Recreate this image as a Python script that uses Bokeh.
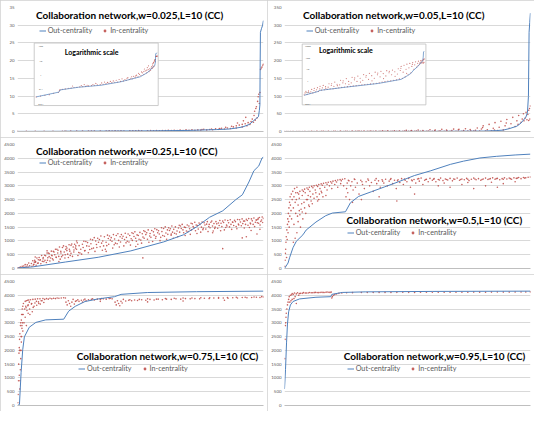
import numpy as np
from bokeh.plotting import figure
from bokeh.layouts import gridplot
from bokeh.models import Range1d, FixedTicker, Legend, LegendItem
from bokeh.embed import file_html
from bokeh.resources import INLINE
from bokeh.core.properties import value

# ------------------------------------------------------------------ data
titles = [
    "Collaboration network,w=0.025,L=10 (CC)",
    "Collaboration network,w=0.05,L=10 (CC)",
    "Collaboration network,w=0.25,L=10 (CC)",
    "Collaboration network,w=0.5,L=10 (CC)",
    "Collaboration network,w=0.75,L=10 (CC)",
    "Collaboration network,w=0.95,L=10 (CC)",
]
y_max = [35, 350, 4500, 4500, 4500, 4500]
y_step = [5, 50, 500, 500, 500, 500]
legend_labels = ["Out-centrality", "In-centrality"]
inset_title = "Logarithmic scale"
inset1_ticks = [0.01, 0.1, 1, 10, 100]
inset1_tick_labels = ["0.01", "0.1", "1", "10", "100"]
inset2_ticks = [0.01, 0.1, 1, 10, 100, 1000]
inset2_tick_labels = ["0.01", "0.1", "1", "10", "100", "1000"]
n_nodes = 4160

# --- w = 0.025
out1_x = [0, 780, 835, 1450, 2230, 2900, 3370, 3580, 3710, 3810, 3920, 3990, 4040, 4075, 4090, 4099, 4103, 4108, 4125, 4145, 4158]
out1_y = [0.028, 0.06, 0.086, 0.13, 0.18, 0.31, 0.54, 0.7, 1.0, 1.3, 2.0, 3.0, 3.7, 4.2, 6.0, 7.5, 18, 28, 29, 30, 31.3]
in1_x = [0, 150, 300, 450, 600, 760, 800, 820, 900, 1000, 1100, 1200, 1300, 1400, 1500, 1550, 1600, 1700, 1800, 1900,
         1950, 2000, 2100, 2200, 2250, 2300, 2400, 2500, 2550, 2600, 2700, 2750, 2800, 2900, 2950, 3000, 3050, 3100, 3150, 3200,
         3250, 3300, 3350, 3400, 3450, 3500, 3550, 3600, 3650, 3700, 3700, 3750, 3800, 3800, 3850, 3880, 3900, 3930, 3950, 3970,
         3990, 4000, 4010, 4020, 4030, 4040, 4050, 4060, 4070, 4080, 4090, 4100, 4110, 4120, 4135, 4150, 4158,
         1250, 1650, 2050, 2350, 2650, 2850, 3120, 3280, 3420, 3520, 3620, 3720, 3820, 3860, 1750, 2450]
in1_y = [0.028, 0.032, 0.036, 0.04, 0.05, 0.058, 0.08, 0.09, 0.095, 0.1, 0.11, 0.115, 0.125, 0.13, 0.14, 0.17, 0.145, 0.15, 0.16, 0.17,
         0.2, 0.18, 0.19, 0.2, 0.26, 0.21, 0.23, 0.25, 0.33, 0.27, 0.29, 0.4, 0.3, 0.33, 0.5, 0.36, 0.45, 0.4, 0.6, 0.45,
         0.55, 0.5, 0.75, 0.6, 0.9, 0.7, 1.0, 0.85, 1.3, 1.0, 1.6, 1.8, 1.3, 2.0, 2.2, 1.6, 2.5, 2.0, 2.8, 3.5,
         2.6, 4.5, 5.7, 3.2, 6.5, 7.0, 3.8, 8.5, 9.8, 10.5, 7.9, 11, 17.5, 17.9, 18.2, 18.7, 19.0,
         0.16, 0.2, 0.24, 0.3, 0.36, 0.45, 0.55, 0.7, 0.8, 1.2, 1.5, 2.4, 3.0, 4.0, 0.18, 0.28]

# --- w = 0.05
out2_x = [0, 500, 520, 1430, 2570, 3360, 3580, 3700, 3800, 3930, 4000, 4080, 4108, 4125, 4136, 4147, 4158]
out2_y = [0.05, 0.11, 0.13, 0.25, 0.53, 1.2, 2.5, 4.0, 8, 15, 24, 40, 53, 99, 280, 307, 334]
in2_x = [0, 30, 60, 100, 140, 200, 230, 260, 300, 340, 400, 430, 460, 500, 540, 600, 630, 660, 700, 740,
         800, 830, 860, 900, 940, 1000, 1030, 1060, 1100, 1140, 1200, 1230, 1260, 1300, 1340, 1400, 1430, 1460, 1500, 1540,
         1600, 1630, 1660, 1700, 1740, 1800, 1830, 1860, 1900, 1940, 2000, 2030, 2060, 2100, 2140, 2200, 2230, 2260, 2300, 2340,
         2400, 2430, 2460, 2500, 2540, 2600, 2630, 2660, 2700, 2740, 2800, 2830, 2860, 2900, 2940, 3000, 3030, 3060, 3100, 3140,
         3200, 3230, 3260, 3300, 3330, 3360, 3400, 3430, 3460, 3500, 3530, 3560, 3600, 3630, 3660, 3700, 3730, 3760,
         3800, 3830, 3860, 3900, 3930, 3960, 4000, 4020, 4040, 4050, 4070, 4085, 4100, 4115, 4130, 4130, 4145, 4150, 4158,
         150, 350, 550, 750, 950, 1150, 1350, 1550, 1750, 1950, 2150, 2350, 2550, 2750, 2950, 3150, 3350, 3550, 3750, 3950]
in2_y = [0.055, 0.08, 0.11, 0.06, 0.09, 0.075, 0.1, 0.16, 0.08, 0.13, 0.1, 0.15, 0.23, 0.11, 0.18, 0.14, 0.22, 0.36, 0.15, 0.28,
         0.16, 0.25, 0.5, 0.18, 0.35, 0.18, 0.3, 0.7, 0.2, 0.45, 0.22, 0.4, 1.0, 0.24, 0.6, 0.26, 0.5, 1.4, 0.28, 0.8,
         0.3, 0.6, 1.8, 0.32, 1.1, 0.34, 0.8, 2.3, 0.37, 1.5, 0.4, 1.0, 3.1, 0.42, 1.9, 0.45, 1.2, 4.0, 0.48, 2.5,
         0.5, 1.5, 5.0, 0.55, 3.0, 0.6, 2.0, 6.0, 0.7, 3.8, 0.75, 2.4, 6.8, 0.85, 4.5, 0.9, 3.0, 7.6, 1.0, 5.5,
         1.1, 3.5, 10, 1.3, 7, 16, 1.5, 5, 20, 2.0, 9, 25, 3.0, 12, 29, 4.5, 16, 34,
         9, 22, 40, 14, 30, 45, 26, 35, 50, 30, 38, 54, 33, 48, 60, 31, 65, 35, 72,
         0.12, 0.2, 0.3, 0.2, 0.5, 0.34, 0.9, 0.45, 1.6, 0.7, 2.6, 0.9, 4.2, 1.4, 6.0, 2.2, 11, 4.0, 24, 20]

# --- w = 0.25
out3_x = [0, 255, 810, 1364, 1917, 2473, 2805, 3027, 3249, 3471, 3692, 3803, 3913, 3997, 4080, 4136, 4158]
out3_y = [20, 58, 235, 407, 640, 966, 1221, 1511, 1860, 2093, 2500, 2675, 3139, 3547, 3722, 4011, 4040]
in3_x = [0, 15, 30, 50, 65, 80, 105, 118, 130, 145, 165, 178, 190, 205,
         235, 245, 258, 270, 285, 305, 315, 328, 340, 352, 385, 395, 408, 420, 435, 465, 475, 488, 500, 512,
         535, 548, 560, 572, 585, 605, 618, 630, 642, 655, 685, 698, 710, 722, 735, 765, 778, 790, 802, 815,
         835, 848, 860, 872, 885, 905, 918, 930, 942, 955, 985, 998, 1010, 1022, 1035,
         1085, 1098, 1110, 1122, 1135, 1185, 1198, 1210, 1222, 1235, 1285, 1298, 1310, 1322, 1335,
         1385, 1398, 1410, 1422, 1435, 1485, 1498, 1510, 1522, 1535, 1585, 1598, 1610, 1622, 1635,
         1685, 1698, 1710, 1722, 1735, 1785, 1798, 1810, 1822, 1835, 1885, 1898, 1910, 1922, 1935,
         1985, 1998, 2010, 2022, 2035, 2085, 2098, 2110, 2122, 2135, 2185, 2198, 2210, 2222, 2235,
         2285, 2298, 2310, 2322, 2335, 2385, 2398, 2410, 2422, 2435, 2485, 2498, 2510, 2522, 2535,
         2585, 2598, 2610, 2622, 2635, 2685, 2698, 2710, 2722, 2735, 2785, 2798, 2810, 2822, 2835,
         2885, 2898, 2910, 2922, 2935, 2985, 2998, 3010, 3022, 3035, 3085, 3098, 3110, 3122, 3135,
         3185, 3198, 3210, 3222, 3235, 3285, 3298, 3310, 3322, 3335, 3385, 3398, 3410, 3422, 3435,
         3485, 3498, 3510, 3522, 3535, 3585, 3598, 3610, 3622, 3635, 3685, 3698, 3710, 3722, 3735,
         3785, 3798, 3810, 3822, 3835, 3885, 3898, 3910, 3922, 3935, 3985, 3998, 4010, 4022, 4035,
         4065, 4078, 4090, 4102, 4115, 4128, 4138, 4148, 4158,
         2120, 3470, 3800, 3870, 4050, 4100, 3950, 300, 500, 700, 1000, 1500, 2000, 2600, 3300,
         277, 291, 305, 352, 366, 380, 432, 446, 460, 507, 521, 535, 577, 591, 605, 652, 666, 680,
         732, 746, 760, 807, 821, 835, 877, 891, 905, 952, 966, 980, 1042, 1056, 1070, 1142, 1156, 1170,
         1242, 1256, 1270, 1342, 1356, 1370, 1442, 1456, 1470, 1542, 1556, 1570, 1642, 1656, 1670,
         1742, 1756, 1770, 1842, 1856, 1870, 1942, 1956, 1970, 2042, 2056, 2070, 2142, 2156, 2170,
         2242, 2256, 2270, 2342, 2356, 2370, 2442, 2456, 2470, 2542, 2556, 2570, 2642, 2656, 2670,
         2742, 2756, 2770, 2842, 2856, 2870, 2942, 2956, 2970, 3042, 3056, 3070, 3142, 3156, 3170,
         3242, 3256, 3270, 3342, 3356, 3370, 3442, 3456, 3470, 3542, 3556, 3570, 3642, 3656, 3670,
         3742, 3756, 3770, 3842, 3856, 3870, 3942, 3956, 3970, 4042, 4056, 4070]
in3_y = [20, 5, 35, 50, 15, 80, 90, 30, 140, 60, 130, 50, 200, 100,
         180, 80, 280, 130, 230, 250, 120, 380, 190, 320, 320, 170, 470, 260, 400, 300, 460, 220, 560, 390,
         540, 270, 380, 630, 460, 310, 600, 500, 700, 400, 660, 440, 780, 340, 560, 480, 820, 600, 380, 700,
         740, 520, 400, 860, 630, 550, 890, 440, 780, 670, 820, 700, 930, 470, 580,
         520, 880, 760, 990, 640, 940, 570, 810, 690, 1060, 740, 1120, 620, 1000, 870,
         1050, 790, 1180, 920, 660, 700, 950, 830, 1210, 1090, 1120, 990, 740, 1230, 860,
         900, 1260, 1020, 780, 1150, 1170, 820, 1050, 1280, 930, 960, 1200, 850, 1080, 1300,
         1330, 1100, 990, 1220, 880, 1030, 920, 1260, 1140, 1370, 1300, 1060, 1400, 950, 1180,
         980, 1330, 1210, 1440, 1100, 1370, 1250, 1010, 1130, 1480, 1170, 1510, 1290, 1060, 1400,
         1440, 1210, 1540, 1320, 1100, 1250, 1360, 1150, 1470, 1570, 1600, 1400, 1300, 1500, 1200,
         1340, 1540, 1440, 1240, 1640, 1480, 1680, 1370, 1580, 1270, 1600, 1320, 1500, 1690, 1410,
         1430, 1610, 1700, 1340, 1520, 1720, 1540, 1360, 1630, 1450, 1460, 1650, 1560, 1740, 1370,
         1670, 1400, 1760, 1490, 1580, 1510, 1770, 1600, 1420, 1690, 1700, 1520, 1440, 1780, 1610,
         1550, 1800, 1630, 1720, 1470, 1740, 1570, 1810, 1490, 1650, 1600, 1830, 1520, 1680, 1760,
         1780, 1640, 1850, 1580, 1710, 1760, 1870, 1670, 1820,
         384, 720, 1110, 1150, 1250, 1420, 1380, 420, 640, 250, 1000, 620, 800, 1250, 1300,
         150, 300, 230, 200, 400, 300, 350, 250, 480, 300, 560, 430, 480, 350, 620, 420, 700, 560,
         620, 430, 760, 500, 800, 650, 700, 470, 840, 600, 880, 740, 830, 560, 700, 650, 980, 820,
         900, 720, 1040, 760, 1100, 950, 1000, 820, 1150, 880, 1180, 1030, 1070, 920, 1200,
         960, 1230, 1100, 1130, 990, 1250, 1020, 1270, 1160, 1200, 1060, 1310, 1100, 1340, 1230,
         1270, 1130, 1380, 1160, 1410, 1300, 1340, 1200, 1450, 1240, 1480, 1380, 1420, 1280, 1510,
         1320, 1540, 1450, 1490, 1360, 1580, 1400, 1620, 1520, 1560, 1430, 1650, 1460, 1660, 1580,
         1600, 1480, 1680, 1500, 1700, 1620, 1640, 1520, 1720, 1540, 1740, 1660, 1680, 1560, 1750,
         1580, 1770, 1690, 1720, 1600, 1790, 1620, 1800, 1730, 1760, 1660, 1820]

# --- w = 0.5
out4_x = [0, 60, 88, 144, 200, 311, 366, 532, 698, 810, 1031, 1114, 1253, 1475, 1696, 1917, 2195, 2473, 2805, 3027, 3304, 3581, 3900, 4158]
out4_y = [0, 200, 407, 756, 988, 1221, 1395, 1686, 1918, 2012, 2058, 2383, 2616, 2790, 2965, 3139, 3372, 3547, 3779, 3896, 4011, 4070, 4120, 4150]
in4_x = [5, 10, 15, 20, 25, 30, 35, 40, 45, 50, 55, 60, 65, 70, 75, 80, 85, 90, 95, 100,
         110, 115, 120, 130, 140, 150, 160, 170, 180, 190, 200, 210,
         220, 260, 300, 340, 380, 420, 460, 500, 540, 580, 620, 660, 700, 740, 780, 820, 860, 900, 940, 980, 1020,
         240, 320, 400, 480, 560, 640, 720, 800, 880, 960,
         230, 250, 280, 300, 330, 350, 370, 400, 430, 450, 480, 520, 550, 600, 630, 680, 720, 760, 800, 850,
         900, 950, 1000, 260, 210, 180, 230, 150, 300, 420, 580, 700,
         160, 190, 220, 250, 270, 290, 310, 340, 360, 390, 410, 440, 470, 500, 530, 560, 590, 620, 650,
         1040, 1050, 1060, 1070, 1080, 1100, 1120, 1140, 1160, 1180, 1200, 1230, 1260, 1290, 1320, 1350, 1380, 1410, 1440, 1470,
         1500, 1530, 1560, 1590, 1620, 1650, 1680, 1710, 1740, 1770, 1800, 1830, 1860, 1890, 1920, 1950, 1980, 2010, 2040, 2070,
         2100, 2130, 2160, 2190, 2220, 2250, 2280, 2310, 2340, 2370, 2400, 2430, 2460, 1300, 1600, 1900, 2200, 1150,
         1090, 1190, 1310, 1420, 1550, 1660, 1790, 1910, 2030, 2150, 2270, 2390,
         2500, 2530, 2560, 2600, 2640, 2680, 2720, 2760, 2800, 2840, 2880, 2920, 2960, 3000, 3040, 3080, 3120, 3160, 3200, 3240,
         3280, 3320, 3360, 3400, 3440, 3480, 3520, 3560, 3600, 3640, 3680, 3720, 3760, 3800, 3840, 3880, 3920, 3960, 4000, 4040,
         4080, 4120, 4158,
         2600, 2800, 3000, 3200, 3400, 3600, 3700, 3900, 2700, 3100, 3500,
         2520, 2620, 2740, 2860, 2980, 3100, 3220, 3340, 3460, 3580, 3700, 3820, 3940, 4060]
in4_y = [80, 300, 550, 700, 950, 1150, 400, 1400, 1050, 1600, 1800, 1300, 2000, 1700, 2200, 1500, 2400, 1900, 2600, 2300,
         2100, 2700, 1800, 2500, 2800, 2200, 2600, 2900, 2400, 2750, 2500, 2950,
         2750, 2800, 2850, 2880, 2920, 2950, 2980, 3000, 3020, 3050, 3070, 3090, 3110, 3130, 3150, 3170, 3190, 3210, 3225, 3240, 3255,
         2700, 2800, 2870, 2930, 2980, 3020, 3060, 3100, 3140, 3180,
         2300, 2550, 2150, 2650, 2400, 2750, 2500, 2650, 2800, 2450, 2700, 2850, 2600, 2900, 2750, 2950, 2850, 3000, 2900, 3050,
         2950, 3080, 3000, 1950, 1300, 1100, 1700, 950, 2050, 2250, 2500, 2650,
         1600, 2000, 1900, 2100, 1500, 2350, 1800, 2200, 2000, 2500, 2300, 2600, 2350, 2550, 2750, 2450, 2700, 2800, 2600,
         2600, 2900, 3100, 2750, 3200, 2500, 3000, 3150, 2850, 3250, 2950, 3100, 2700, 3200, 3050, 2900, 3150, 3250, 3000, 3120,
         2800, 3200, 3080, 3180, 2950, 3220, 3100, 3240, 3000, 3170, 3260, 3080, 3200, 2900, 3220, 3120, 3260, 3050, 3200, 3150,
         3270, 2950, 3180, 3230, 3100, 3250, 3170, 3280, 3050, 3200, 3240, 3150, 3270, 2500, 2600, 2450, 2700, 2400,
         3180, 3230, 3150, 3200, 3260, 3170, 3230, 3180, 3250, 3210, 3260, 3230,
         3200, 3260, 3150, 3230, 3280, 3190, 3250, 3210, 3270, 3180, 3240, 3280, 3200, 3250, 3220, 3270, 3190, 3240, 3280, 3220,
         3260, 3200, 3250, 3280, 3230, 3260, 3290, 3240, 3270, 3220, 3260, 3290, 3250, 3280, 3240, 3290, 3270, 3300, 3260, 3300,
         3290, 3310, 3320,
         3000, 2950, 3050, 2900, 3000, 2950, 3080, 3150, 3100, 3120, 3130,
         3240, 3210, 3230, 3250, 3230, 3240, 3250, 3230, 3250, 3260, 3240, 3260, 3280, 3280]

# --- w = 0.75
out5_x = [0, 33, 61, 88, 116, 200, 311, 477, 782, 865, 976, 1142, 1364, 1641, 1751, 2195, 3027, 4158]
out5_y = [0, 35, 1203, 2020, 2490, 2841, 3016, 3107, 3132, 3423, 3598, 3774, 3868, 3949, 4033, 4100, 4130, 4150]
in5_x = [5, 10, 15, 20, 25, 30, 35, 40, 45, 50, 55, 60, 65, 70, 75, 80, 85, 90, 95,
         110, 130, 150, 180, 250, 90, 70, 60, 55, 48, 42, 38, 30, 35, 65, 75, 85,
         100, 120, 130, 140, 150, 160, 170, 180, 190, 200, 210, 220, 240, 260, 280, 300, 320, 340, 360, 380,
         400, 430, 460, 490, 520, 550, 580, 610, 640, 670, 700, 740, 780, 810,
         145, 175, 205, 235, 265, 295, 325, 355, 385, 415, 445,
         820, 840, 860, 880, 900, 920, 940, 960, 980,
         1000, 1040, 1080, 1120, 1160, 1200, 1250, 1300, 1350, 1400, 1450, 1500, 1550, 1600,
         1650, 1670, 1690, 1710, 1730, 1750, 1770, 1790,
         1830, 1880, 1930, 1980, 2030, 2100, 2170, 2240, 2310, 2380, 2450, 2520, 2600, 2680, 2760, 2840, 2920, 3000, 3080, 3160,
         3240, 3320, 3400, 3480, 3560, 3640, 3720, 3800, 3880, 3960, 4040, 4100, 4158,
         1100, 1400, 2200, 2800, 3500,
         1020, 1140, 1270, 1420, 1570, 1900, 2060, 2200, 2350, 2500, 2650, 2800, 2950, 3100, 3250, 3400, 3550, 3700, 3850, 4000, 4130]
in5_y = [100, 400, 900, 1500, 1900, 2100, 2400, 2600, 2000, 2900, 3000, 2500, 3100, 3300, 2800, 3500, 3000, 3600, 3300,
         3000, 3200, 2900, 3350, 3400, 2700, 2500, 2000, 1700, 1300, 900, 600, 1100, 2000, 2300, 2900, 3300,
         3700, 3500, 3780, 3600, 3800, 3450, 3820, 3650, 3830, 3750, 3300, 3840, 3700, 3850, 3600, 3860, 3780, 3870, 3700, 3870,
         3800, 3880, 3850, 3880, 3860, 3890, 3870, 3890, 3880, 3900, 3890, 3900, 3910, 3900,
         3550, 3620, 3500, 3680, 3560, 3720, 3640, 3760, 3680, 3800, 3740,
         3750, 3650, 3800, 3700, 3600, 3750, 3850, 3680, 3780,
         3800, 3780, 3820, 3830, 3800, 3840, 3850, 3830, 3860, 3850, 3870, 3860, 3880, 3870,
         3750, 3650, 3800, 3700, 3620, 3780, 3720, 3850,
         3790, 3820, 3800, 3830, 3810, 3840, 3820, 3850, 3830, 3860, 3840, 3860, 3850, 3870, 3860, 3880, 3870, 3880, 3870, 3890,
         3880, 3900, 3890, 3900, 3890, 3910, 3900, 3920, 3910, 3920, 3930, 3920, 3940,
         3750, 3780, 3760, 3790, 3820,
         3840, 3860, 3870, 3880, 3890, 3840, 3850, 3870, 3860, 3880, 3890, 3900, 3900, 3910, 3910, 3920, 3920, 3930, 3930, 3940, 3950]

# --- w = 0.95
out6_x = [0, 17, 35, 50, 70, 100, 144, 255, 532, 782, 800, 976, 1364, 2500, 4158]
out6_y = [600, 1300, 2300, 2956, 3400, 3650, 3774, 3868, 3928, 3949, 4033, 4103, 4124, 4140, 4150]
in6_x = [5, 10, 15, 20, 25, 30, 40, 50, 60, 70, 80, 100, 120, 150, 180, 200, 250, 300, 350, 400,
         450, 500, 550, 600, 650, 700, 750, 790, 800, 810, 830, 850, 880, 920, 970, 1050, 1150, 1300, 1400, 1600,
         1800, 2000, 2200, 2400, 2600, 2800, 3000, 3200, 3400, 3600, 3800, 4000, 4158,
         90, 110, 130, 160, 200, 240, 1500, 1700, 1900, 2100, 2300, 2500, 2700, 2900, 3100, 3300, 3500, 3700, 3900, 4080,
         130, 170, 220, 270, 320, 370, 420, 470, 520, 570, 620, 670, 720, 770]
in6_y = [1700, 2400, 2900, 3000, 3200, 3350, 3500, 3650, 3750, 3850, 3950, 4000, 4020, 4040, 3950, 4050, 4060, 4070, 4080, 4085,
         4090, 4095, 4100, 4100, 4105, 4110, 4110, 4115, 3900, 3950, 4000, 4030, 4050, 4070, 4080, 4090, 4095, 4100, 4100, 4105,
         4100, 4108, 4105, 4110, 4108, 4112, 4110, 4115, 4112, 4118, 4115, 4120, 4122,
         3750, 3800, 3850, 3880, 3700, 4000, 4102, 4104, 4106, 4106, 4108, 4110, 4110, 4112, 4112, 4114, 4116, 4116, 4118, 4120,
         4060, 4080, 4090, 4070, 4095, 4085, 4100, 4090, 4105, 4095, 4110, 4100, 4115, 4105]

series = [
    (out1_x, out1_y, in1_x, in1_y),
    (out2_x, out2_y, in2_x, in2_y),
    (out3_x, out3_y, in3_x, in3_y),
    (out4_x, out4_y, in4_x, in4_y),
    (out5_x, out5_y, in5_x, in5_y),
    (out6_x, out6_y, in6_x, in6_y),
]

# ------------------------------------------------------------------ style / layout
BLUE = "#4F81BD"
RED = "#C0504D"
GRID = "#D9D9D9"
TXT = "#595959"
FONT = "Lato"

PW, PH = 267, 137
ML, MR, MT, MB = 17, 4, 7, 6
FW, FH = PW - ML - MR, PH - MT - MB

# positions in reference pixels of a 272x142 panel, frame spans x 18..268, y 7..136
LAYOUT = [
    dict(title=(36.7, 15), legend=(40, 32.3),
         inset=dict(box=(35, 161, 44, 109), plot=(37, 160, 46.7, 106.7), lab_x=41.7, head=(66, 53.5),
                    ticks=inset1_ticks, labels=inset1_tick_labels)),
    dict(title=(36.7, 15), legend=(40, 32.3),
         inset=dict(box=(36, 161.7, 45, 108.3), plot=(38, 160, 46.7, 106.7), lab_x=41.7, head=(53, 51.7),
                    ticks=inset2_ticks, labels=inset2_tick_labels)),
    dict(title=(36.7, 13.3), legend=(40, 27.3)),
    dict(title=(81, 85.3), legend=(81.7, 100)),
    dict(title=(78.3, 84.3), legend=(80, 99.3)),
    dict(title=(78.3, 85), legend=(81.7, 99)),
]


def dx(px):
    return (px - 18) / 250.0 * n_nodes


def dy(py, ymax):
    return ymax * (1 - (py - 7) / 129.0)


def make_panel(i):
    ymax, step = y_max[i], y_step[i]
    bx, by, rx, ry = series[i]
    lay = LAYOUT[i]
    p = figure(width=PW, height=PH, x_range=Range1d(0, n_nodes), y_range=Range1d(0, ymax),
               output_backend="svg", toolbar_location=None,
               min_border_left=ML, min_border_right=MR, min_border_top=MT, min_border_bottom=MB,
               background_fill_color="white", border_fill_color="white",
               styles={"outline": "1px solid #D0D0D0", "outline-offset": "-1px"})
    p.outline_line_color = None
    p.xgrid.visible = False
    p.ygrid.grid_line_color = GRID
    p.yaxis.ticker = FixedTicker(ticks=list(range(0, ymax + 1, step)))
    p.yaxis.axis_line_color = None
    p.yaxis.major_tick_in = 0
    p.yaxis.major_tick_out = 0
    p.yaxis.minor_tick_in = 0
    p.yaxis.minor_tick_out = 0
    p.yaxis.major_label_standoff = 3
    p.yaxis.major_label_text_font = FONT
    p.yaxis.major_label_text_font_size = "4.4px"
    p.yaxis.major_label_text_color = TXT
    p.xaxis.ticker = FixedTicker(ticks=[])
    p.xaxis.axis_line_color = "#BFBFBF"
    p.xaxis.major_tick_in = 0
    p.xaxis.major_tick_out = 0
    p.xaxis.minor_tick_in = 0
    p.xaxis.minor_tick_out = 0
    p.xaxis.major_label_standoff = 0

    n = min(len(rx), len(ry))
    sc = p.scatter(rx[:n], ry[:n], size=1.6, fill_color=RED, line_color=None, fill_alpha=0.9)
    bl = p.line(bx, by, line_color=BLUE, line_width=1.0)

    ins = lay.get("inset")
    if ins:
        x0, x1, y0, y1 = ins["box"]
        p.quad(left=[dx(x0)], right=[dx(x1)], bottom=[dy(y1, ymax)], top=[dy(y0, ymax)],
               fill_color="white", line_color="#BFBFBF", line_width=0.8)
        px0, px1, ptop, pbot = ins["plot"]
        lt = np.log10(np.array(ins["ticks"], dtype=float))
        sub = p.subplot(x_source=Range1d(0, n_nodes),
                        y_source=Range1d(lt[0], lt[-1]),
                        x_target=Range1d(dx(px0), dx(px1)),
                        y_target=Range1d(dy(pbot, ymax), dy(ptop, ymax)))
        sub.scatter(rx[:n], np.log10(np.array(ry[:n], dtype=float)), size=1.2,
                    fill_color=RED, line_color=None, fill_alpha=0.75)
        sub.line(bx, np.log10(np.array(by, dtype=float)), line_color=BLUE, line_width=0.7)
        lx = (ins["lab_x"] - px0) / (px1 - px0) * n_nodes
        sub.text(x=[lx] * len(lt), y=list(lt), text=ins["labels"],
                 text_font=value(FONT), text_font_size="2.6px", text_color=TXT,
                 text_align="center", text_baseline="middle")
        hx, hy = ins["head"]
        p.text(x=[dx(hx)], y=[dy(hy, ymax)], text=[inset_title], text_font=value(FONT),
               text_font_size="7px", text_font_style="bold", text_color="black",
               text_align="left", text_baseline="middle")

    tx, ty = lay["title"]
    p.text(x=[dx(tx)], y=[dy(ty, ymax)], text=[titles[i]], text_font=value(FONT),
           text_font_size="10px", text_font_style="bold", text_color="black",
           text_align="left", text_baseline="middle")

    lgx, lgy = lay["legend"]
    vx = (lgx - 18) / 250.0 * FW
    vy = (136 - lgy) / 129.0 * FH - 3.5
    legend = Legend(items=[LegendItem(label=legend_labels[0], renderers=[bl]),
                           LegendItem(label=legend_labels[1], renderers=[sc])],
                    location=(vx, vy), orientation="horizontal", padding=0, margin=0,
                    spacing=9, glyph_width=7, glyph_height=7, label_height=7, label_width=10,
                    label_standoff=2, border_line_color=None, background_fill_alpha=0,
                    label_text_font=FONT, label_text_font_size="7.2px", label_text_color=TXT)
    p.add_layout(legend)
    return p


panels = [make_panel(i) for i in range(6)]
grid = gridplot([[panels[0], panels[1]], [panels[2], panels[3]], [panels[4], panels[5]]],
                toolbar_location=None)

open("out.html", "w").write(file_html(grid, INLINE))
